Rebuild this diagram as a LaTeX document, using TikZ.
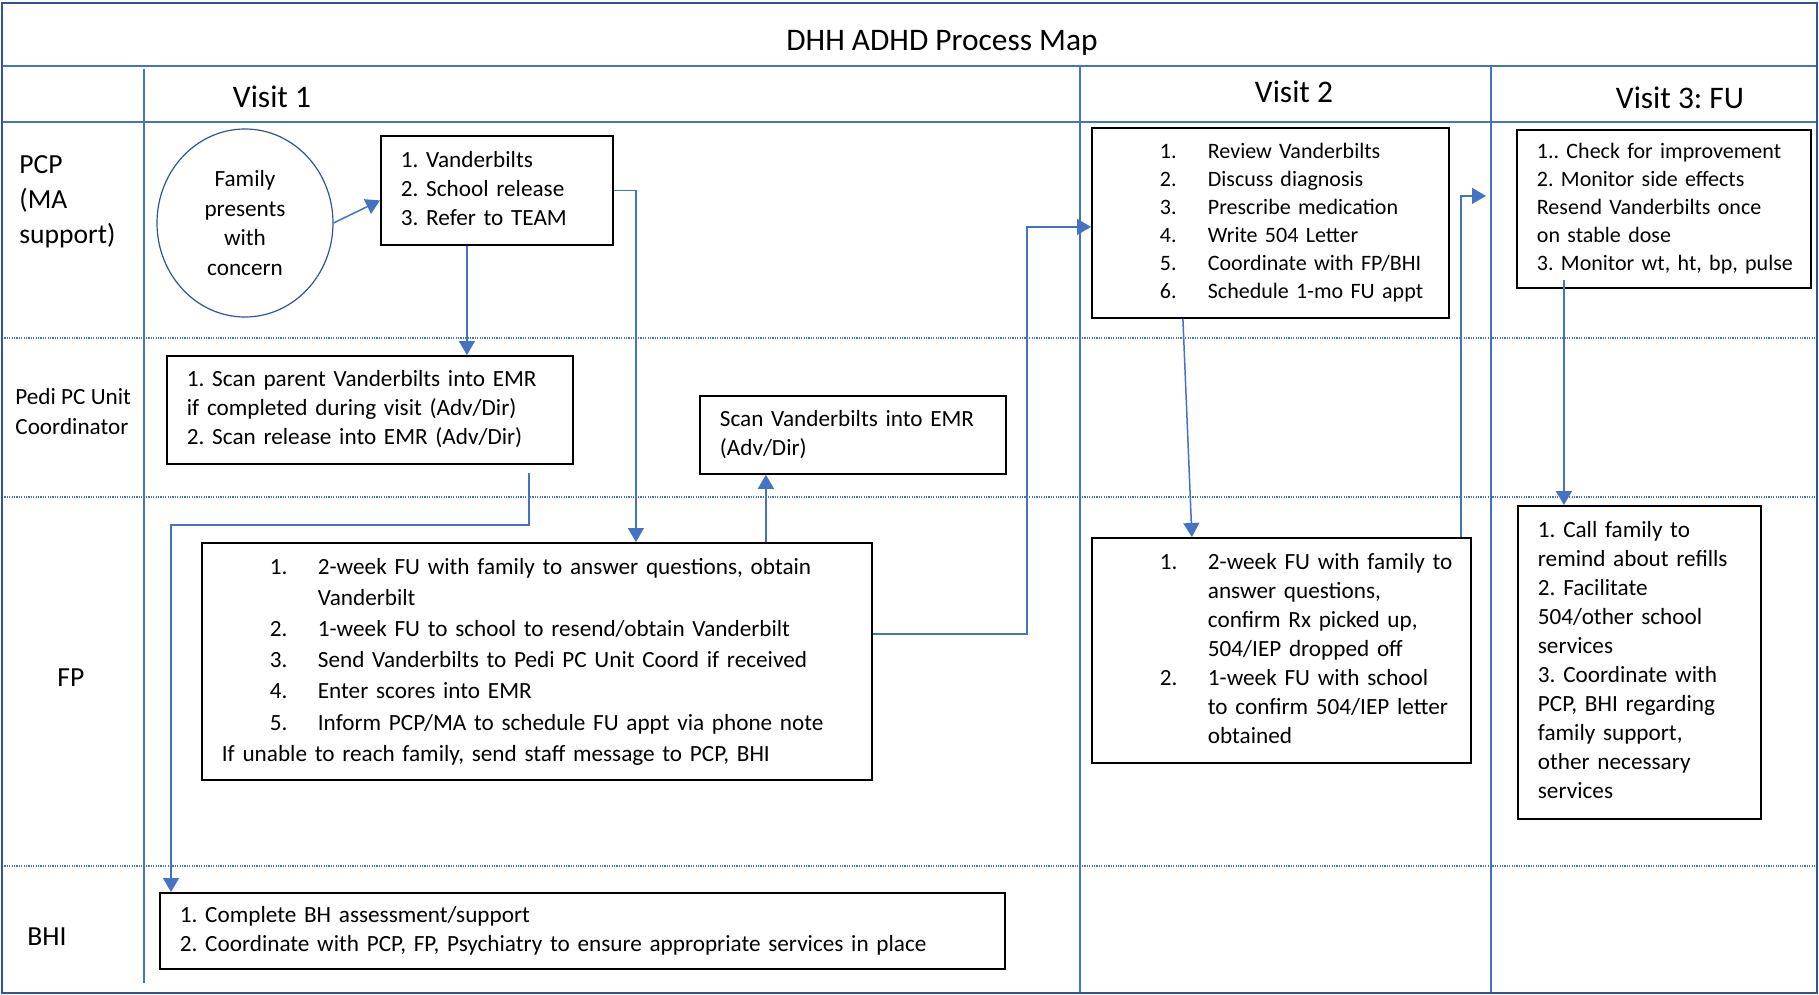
\documentclass[tikz,border=0pt]{standalone}
\usepackage{fontspec}
\setmainfont{Carlito}
\usetikzlibrary{arrows.meta, shapes.geometric}
\definecolor{gridblue}{HTML}{4472C4}
\definecolor{frameblue}{HTML}{2F5597}
\newcommand{\nitem}[2]{\hspace*{24pt}\makebox[24pt][l]{#1}#2}
\newcommand{\ncont}[1]{\hspace*{48pt}#1}
\newcommand{\boxlines}[1]{\begin{tabular}{@{}l@{}}#1\end{tabular}}

\begin{document}
\frenchspacing
\begin{tikzpicture}[x=0.5pt, y=-0.5pt,
        lane/.style={gridblue, line width=0.7pt},
        lanedot/.style={gridblue, line width=0.7pt, dash pattern=on 0.6pt off 0.6pt},
        procbox/.style={rectangle, draw=black, line width=0.9pt, fill=white, anchor=north west, inner xsep=10pt, inner ysep=0pt, font=\fontsize{11.6}{14.5}\selectfont},
        smallbox/.style={procbox, font=\fontsize{11}{14}\selectfont},
        flow/.style={draw=gridblue, line width=0.75pt, -{Triangle[length=7pt, width=8pt]}},
        lanelabel/.style={anchor=west, inner sep=0pt, align=left, font=\fontsize{13.8}{17.5}\selectfont},
        head/.style={anchor=base, inner sep=0pt, font=\fontsize{15.7}{18}\selectfont}]

    \useasboundingbox (0,0) rectangle (1819,995);

    % swimlane grid
    \draw[lane] (2,66) -- (1817,66);
    \draw[lane] (2,122) -- (1817,122);
    \draw[lanedot] (2,338) -- (1817,338);
    \draw[lanedot] (2,497) -- (1817,497);
    \draw[lanedot] (2,866) -- (1817,866);
    \draw[lane] (144,69) -- (144,983);
    \draw[lane] (1080,66) -- (1080,993);
    \draw[lane] (1491,66) -- (1491,993);
    \draw[frameblue, line width=1.3pt] (2,3) rectangle (1817,993);

    \node[head] (title) at (942,51) {DHH ADHD Process Map};
    \node[head] (visit1) at (272,108) {Visit 1};
    \node[head] (visit2) at (1294,103) {Visit 2};
    \node[head] (visit3) at (1680,109) {Visit 3: FU};

    \node[lanelabel] (pcp) at (19,202) {PCP\\(MA\\support)};
    \node[lanelabel, font=\fontsize{11.6}{15}\selectfont] (pedi) at (15,412) {Pedi PC Unit\\Coordinator};
    \node[lanelabel] (fp) at (57,678) {FP};
    \node[lanelabel] (bhi) at (27,937) {BHI};

    \node[ellipse, draw=frameblue, line width=0.6pt, fill=white, minimum width=88pt, minimum height=94pt, inner sep=0pt, align=center, font=\fontsize{11.6}{14.75}\selectfont] (family) at (245,223) {Family\\presents\\with\\concern};

    \node[procbox, minimum width=116pt, minimum height=54.5pt, text width=96pt] (vand) at (380,135) {\boxlines{1. Vanderbilts\\2. School release\\3. Refer to TEAM}};
    \node[procbox, minimum width=203pt, minimum height=54pt, text width=183pt] (scanparent) at (166,355) {\boxlines{1. Scan parent Vanderbilts into EMR\\if completed during visit (Adv/Dir)\\2. Scan release into EMR (Adv/Dir)}};
    \node[procbox, minimum width=153pt, minimum height=39pt, text width=133pt] (scanv) at (699,395) {\boxlines{Scan Vanderbilts into EMR\\(Adv/Dir)}};
    \node[procbox, font=\fontsize{11.6}{15.6}\selectfont, minimum width=335pt, minimum height=118.5pt, text width=315pt] (fpone) at (201,542) {\boxlines{\nitem{1.}{2-week FU with family to answer questions, obtain}\\\ncont{Vanderbilt}\\\nitem{2.}{1-week FU to school to resend/obtain Vanderbilt}\\\nitem{3.}{Send Vanderbilts to Pedi PC Unit Coord if received}\\\nitem{4.}{Enter scores into EMR}\\\nitem{5.}{Inform PCP/MA to schedule FU appt via phone note}\\If unable to reach family, send staff message to PCP, BHI}};
    \node[procbox, minimum width=422.5pt, minimum height=38pt, text width=402.5pt] (bhione) at (159,892) {\boxlines{1. Complete BH assessment/support\\2. Coordinate with PCP, FP, Psychiatry to ensure appropriate services in place}};
    \node[smallbox, minimum width=178.5pt, minimum height=95pt, text width=158.5pt] (vtwo) at (1091,127) {\boxlines{\nitem{1.}{Review Vanderbilts}\\\nitem{2.}{Discuss diagnosis}\\\nitem{3.}{Prescribe medication}\\\nitem{4.}{Write 504 Letter}\\\nitem{5.}{Coordinate with FP/BHI}\\\nitem{6.}{Schedule 1-mo FU appt}}};
    \node[procbox, minimum width=189.5pt, minimum height=112.5pt, text width=169.5pt] (fptwo) at (1091,537) {\boxlines{\nitem{1.}{2-week FU with family to}\\\ncont{answer questions,}\\\ncont{confirm Rx picked up,}\\\ncont{504/IEP dropped off}\\\nitem{2.}{1-week FU with school}\\\ncont{to confirm 504/IEP letter}\\\ncont{obtained}}};
    \node[smallbox, minimum width=147pt, minimum height=79pt, text width=127pt] (vthree) at (1516,129) {\boxlines{1.. Check for improvement\\2. Monitor side effects\\Resend Vanderbilts once\\on stable dose\\3. Monitor wt, ht, bp, pulse}};
    \node[procbox, minimum width=121.5pt, minimum height=156.5pt, text width=101.5pt] (fpthree) at (1517,505) {\boxlines{1. Call family to\\remind about refills\\2. Facilitate\\504/other school\\services\\3. Coordinate with\\PCP, BHI regarding\\family support,\\other necessary\\services}};

    \draw[flow] (family.east) -- ([yshift=-5pt]vand.west);
    \draw[flow] ([xshift=-15pt]vand.south) -- ([xshift=-15pt]vand.south |- scanparent.north);
    \draw[flow] (vand.east) -| ([xshift=49.5pt]fpone.north);
    \draw[flow] ([xshift=79.5pt,yshift=-4pt]scanparent.south) -- ++(0,52) -| ([xshift=6pt]bhione.north west);
    \draw[flow] ([xshift=-43.5pt]scanv.south |- fpone.north) -- ([xshift=-43.5pt]scanv.south);
    \draw[flow] ([yshift=13.75pt]fpone.east) -- ++(154,0) |- ([yshift=-2pt]vtwo.west);
    \draw[flow] ([xshift=-43.75pt]vtwo.south) -- ([xshift=-44.75pt]fptwo.north);
    \draw[flow] ([xshift=89.75pt]fptwo.north) |- ([xshift=-15pt,yshift=6.5pt]vthree.west);
    \draw[flow] ([xshift=-50pt,yshift=4.5pt]vthree.south) -- ([xshift=-50pt]vthree.south |- fpthree.north);
\end{tikzpicture}
\end{document}
